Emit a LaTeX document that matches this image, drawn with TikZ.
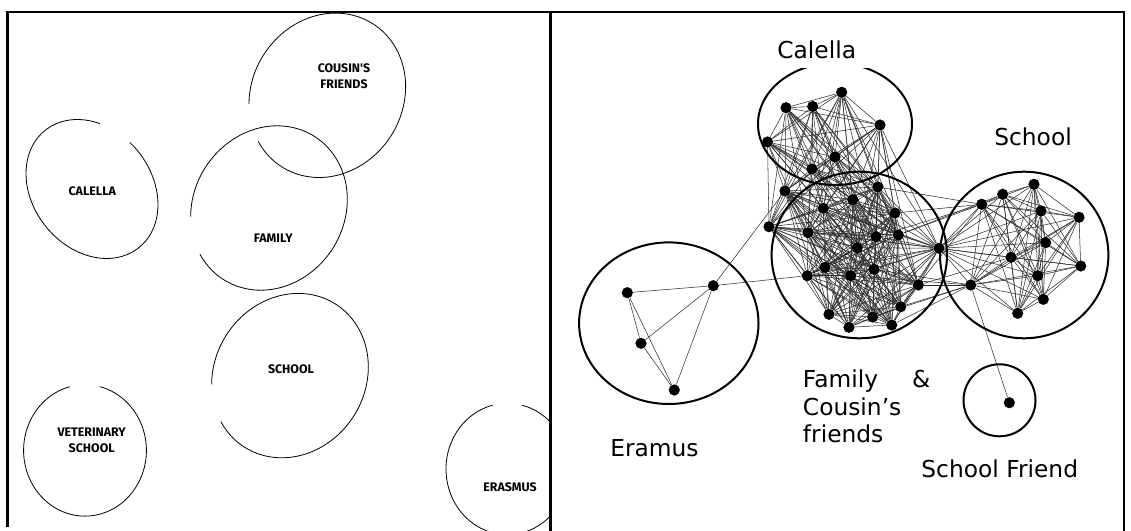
\documentclass[tikz,border=0pt]{standalone}
\usepackage{fontspec}
\setmainfont{DejaVu Sans}
\newfontfamily\comicf{Fira Sans}
\usetikzlibrary{backgrounds}
\begin{document}
\begin{tikzpicture}[x=0.75pt,y=0.75pt,
  frame/.style={line width=1.8pt,black},
  sketch/.style={line width=0.6pt,black},
  ring/.style={line width=1.5pt,black},
  dot/.style={circle,fill=black,inner sep=0pt,minimum size=8.4pt},
  edge/.style={line width=0.4pt,black!82},
  biglabel/.style={font=\fontsize{17.5}{20.8}\selectfont,inner sep=0pt},
  smalllabel/.style={font=\comicf\bfseries\fontsize{9.3}{12}\selectfont,inner sep=0pt,align=center}]
\useasboundingbox (0,0) rectangle (1131,-531);

% frame
\draw[frame] (7.3,-527) -- (7.3,-12) -- (1124,-12) -- (1124,-531);
\draw[frame] (550.5,-12) -- (550.5,-531);

% ---------- left panel: sketched ellipses ----------
\begin{scope}
\clip (8,-13) rectangle (549.5,-531);
\begin{scope}[shift={(92,-189)},rotate=-51.5]
  \draw[sketch] (128:75.1 and 59.5) arc[start angle=128,end angle=460,x radius=75.1,y radius=59.5];
\end{scope}
\foreach \cx/\cy in {269/208, 327.3/95.3, 290/375.6}{
  \begin{scope}[shift={(\cx,-\cy)},rotate=57.3]
    \draw[sketch] (153.8:84.8 and 75.5) arc[start angle=153.8,end angle=485.8,x radius=84.8,y radius=75.5];
  \end{scope}}
\foreach \cx/\cy in {85/450.4, 507.4/469}{
  \begin{scope}[shift={(\cx,-\cy)}]
    \draw[sketch] (104:61.4 and 65.7) arc[start angle=104,end angle=436,x radius=61.4,y radius=65.7];
  \end{scope}}
\end{scope}

\node[smalllabel] (lcous) at (344,-76.4) {COUSIN\textquotesingle S\\FRIENDS};
\node[smalllabel] (lcal) at (92.3,-191.7) {CALELLA};
\node[smalllabel] (lfam) at (273.3,-238.3) {FAMILY};
\node[smalllabel] (lsch) at (291,-369.5) {SCHOOL};
\node[smalllabel] (lvet) at (91.7,-440) {VETERINARY\\SCHOOL};
\node[smalllabel] (lera) at (510,-487.3) {ERASMUS};

% ---------- right panel: network ----------
\begin{scope}
\clip (700,-69) rectangle (960,-200);
\draw[ring] (835,-124) ellipse [x radius=77,y radius=61];
\end{scope}
\draw[ring] (859.3,-255) ellipse [x radius=87.7,y radius=83.3];
\draw[ring] (1024.2,-255) ellipse [x radius=84.2,y radius=83.3];
\draw[ring] (668.8,-323.2) ellipse [x radius=89.7,y radius=80.8];
\draw[ring] (999.5,-400.3) circle [radius=36];

\foreach \n/\x/\y in {c1/841.7/92.3, c2/786/107.7, c3/812.7/106.5, c4/880/125,
  c5/767.5/142, c6/835/157, c7/812/169,
  f1/785/191, f2/769/226.7, f3/877.7/187, f4/852.7/199.7, f5/823.3/208.3,
  f6/895/213, f7/808/232.7, f8/876/236.7, f9/898.3/235, f10/857.3/247.7,
  f11/825/267.3, f12/807.3/275.7, f13/850.7/275.7, f14/874/269.3, f15/918.3/285,
  f16/900.7/306.7, f17/829/314.3, f18/872.7/317, f19/849/327.3, f20/891.7/325,
  f21/939/248.3,
  s1/981.7/204.3, s2/1002.7/194.3, s3/1034/184.3, s4/1041/211, s5/1079/217.3,
  s6/1045.7/242.7, s7/1011/257.3, s8/1080.7/266, s9/1037.7/275.7, s10/970.7/285,
  s11/1043.3/299.3, s12/1017.7/313.3,
  sf/1009.3/402.7,
  e1/627.3/292.7, e2/713.3/285.7, e3/641/343.3, e4/674.3/390}
  \node[dot] (\n) at (\x,-\y) {};

\begin{scope}[on background layer]
\foreach \i in {1,...,7}{\foreach \j in {1,...,7}{\ifnum\i<\j\relax\draw[edge] (c\i) -- (c\j);\fi}}
\foreach \i in {1,...,21}{\foreach \j in {1,...,21}{\ifnum\i<\j\relax\draw[edge] (f\i) -- (f\j);\fi}}
\foreach \i in {1,...,12}{\foreach \j in {1,...,12}{\ifnum\i<\j\relax\draw[edge] (s\i) -- (s\j);\fi}}
\foreach \i in {1,...,12}{\draw[edge] (f21) -- (s\i);}
\foreach \i in {1,...,7}{\foreach \j in {1,...,10}{\draw[edge] (c\i) -- (f\j);}}
\foreach \i in {1,...,4}{\foreach \j in {1,...,4}{\ifnum\i<\j\relax\draw[edge] (e\i) -- (e\j);\fi}}
\foreach \a/\b in {c4/f21, c1/f21, c4/f15, e2/f1, e2/f12, s10/sf,
  f3/s1, f6/s1, f9/s1, f8/s1, f16/s1, f9/s2, f15/s10, f16/s10, f18/s10,
  f20/s10, f14/s10, f15/s7, f13/s10}
  \draw[edge] (\a) -- (\b);
\end{scope}

\node[biglabel,anchor=base] (tcal) at (816.7,-58.3) {Calella};
\node[biglabel,anchor=base] (tsch) at (1033,-145.8) {School};
\node[biglabel,anchor=base west] (tera) at (610,-456.5) {Eramus};
\node[biglabel,anchor=base east] (tsf) at (1078.3,-477.3) {School Friend};
\node[biglabel,anchor=base west] (tfam) at (802.7,-387.3)
  {\vtop{\hsize=95.5pt\parindent=0pt Family\hfill\&\par Cousin’s\par friends}};
\end{tikzpicture}
\end{document}
